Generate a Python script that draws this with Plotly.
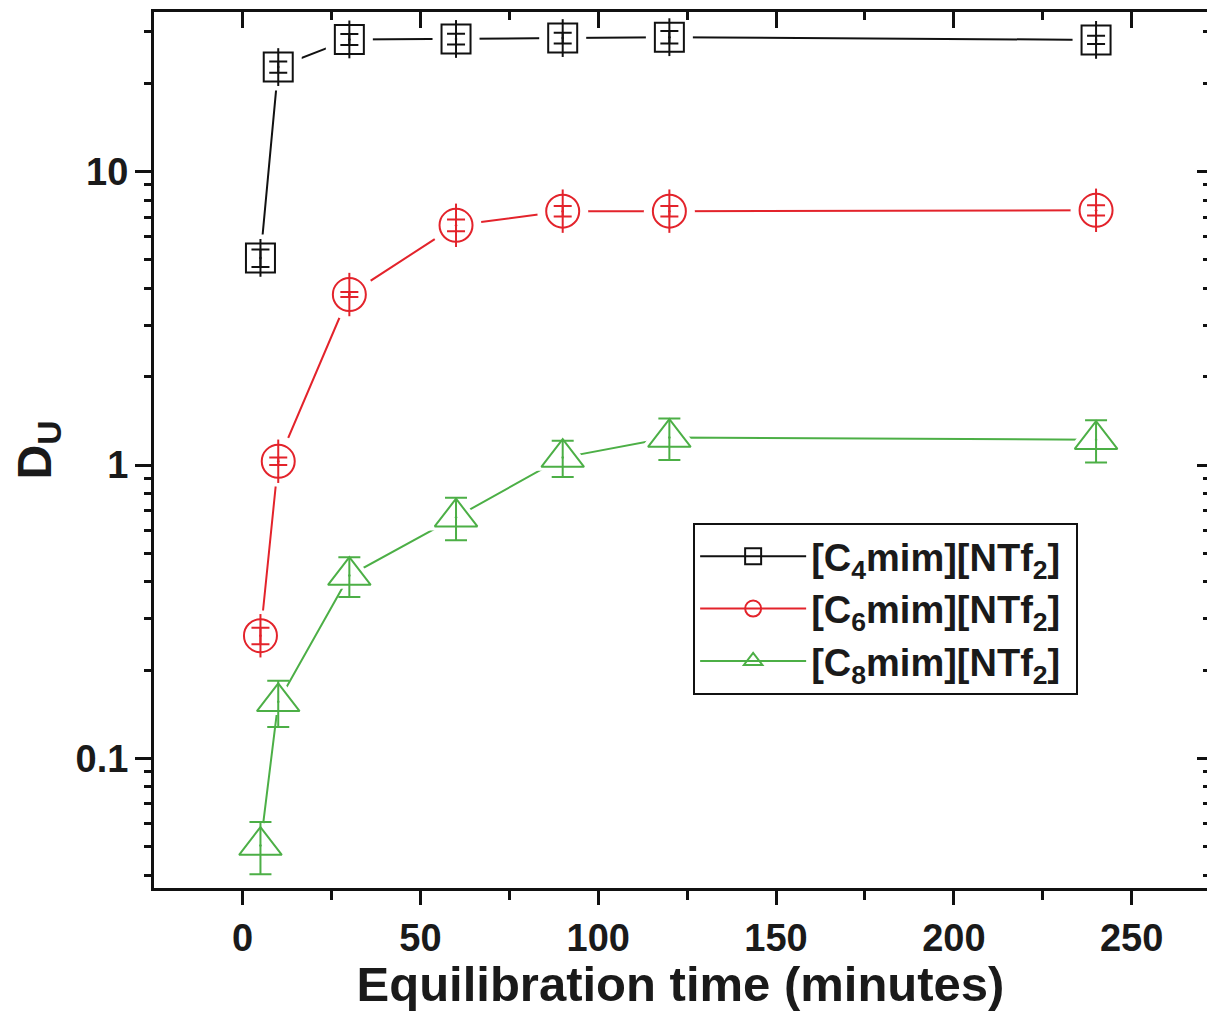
import plotly.graph_objects as go
import math

# ---- data ----
time_min = [5, 10, 30, 60, 90, 120, 240]

c4_D = [5.08, 22.7, 28.2, 28.3, 28.5, 28.7, 28.1]
c4_err = [0.35, 1.0, 1.2, 1.2, 1.2, 1.4, 0.9]

c6_D = [0.262, 1.03, 3.81, 6.56, 7.33, 7.33, 7.38]
c6_err = [0.017, 0.03, 0.075, 0.3, 0.3, 0.3, 0.3]

c8_D = [0.0505, 0.156, 0.42, 0.664, 1.06, 1.24, 1.22]
c8_err = [0.0102, 0.028, 0.065, 0.11, 0.15, 0.2, 0.2]

series_names = ["[C<sub>4</sub>mim][NTf<sub>2</sub>]\u00a0",
                "[C<sub>6</sub>mim][NTf<sub>2</sub>]\u00a0",
                "[C<sub>8</sub>mim][NTf<sub>2</sub>]\u00a0"]

# ---- styles ----
colors = ["#111111", "#e3232b", "#4caf46"]
symbols = ["square", "circle", "triangle-up"]
msizes = [29, 33, 37]
mask_extra = [18, 18, 16]
cap_w = [9, 9, 11]

FONT = "Liberation Sans, Arial, Helvetica, sans-serif"
TXT = "#1a1a1a"
AX = "#111111"

ys = [c4_D, c6_D, c8_D]
errs = [c4_err, c6_err, c8_err]

fig = go.Figure()

# connecting lines
for i in range(3):
    fig.add_trace(go.Scatter(x=time_min, y=ys[i], mode="lines",
                             line=dict(color=colors[i], width=2),
                             showlegend=False, hoverinfo="skip"))
# white masks giving the gap between line and symbol
for i in range(3):
    fig.add_trace(go.Scatter(x=time_min, y=ys[i], mode="markers",
                             marker=dict(symbol=symbols[i], size=msizes[i] + mask_extra[i],
                                         color="white", line=dict(width=0)),
                             showlegend=False, hoverinfo="skip"))
# open symbols with error bars
for i in range(3):
    fig.add_trace(go.Scatter(x=time_min, y=ys[i], mode="markers",
                             marker=dict(symbol=symbols[i] + "-open", size=msizes[i],
                                         color=colors[i], line=dict(width=2, color=colors[i])),
                             error_y=dict(type="data", array=errs[i], visible=True,
                                          color=colors[i], thickness=2, width=cap_w[i]),
                             showlegend=False, hoverinfo="skip"))
    if i < 2:
        fig.add_trace(go.Scatter(x=time_min, y=ys[i], mode="markers",
                                 marker=dict(symbol="line-ns-open", size=msizes[i] - 2,
                                             color=colors[i], line=dict(width=2, color=colors[i])),
                                 showlegend=False, hoverinfo="skip"))
    fig.add_trace(go.Scatter(x=time_min, y=ys[i], mode="markers",
                             marker=dict(symbol="circle", size=2.5, color=colors[i],
                                         line=dict(width=0)),
                             showlegend=False, hoverinfo="skip"))

# legend entries
for i in range(3):
    fig.add_trace(go.Scatter(x=[None], y=[None], mode="lines+markers", name=series_names[i],
                             line=dict(color=colors[i], width=2),
                             marker=dict(symbol=symbols[i] + "-open", size=16,
                                         color=colors[i], line=dict(width=2, color=colors[i]))))

# helper trace for the mirrored (top / right) axes
fig.add_trace(go.Scatter(x=[None], y=[None], xaxis="x2", yaxis="y2",
                         showlegend=False, hoverinfo="skip"))

xr = [-24.94, 271.2]
yr = [math.log10(0.0362), math.log10(34.97)]

fig.update_layout(
    width=1199, height=1003,
    margin=dict(l=146, r=0, t=4, b=123),
    paper_bgcolor="white", plot_bgcolor="white",
    font=dict(family=FONT, color=TXT),
    showlegend=True,
    legend=dict(x=0.512, y=0.4167, xanchor="left", yanchor="top",
                bordercolor=AX, borderwidth=2, bgcolor="white",
                font=dict(family=FONT, size=38, weight="bold", color=TXT),
                itemwidth=106, tracegroupgap=0),
    xaxis=dict(range=xr, showgrid=False, zeroline=False,
               showline=True, linewidth=3, linecolor=AX,
               ticks="outside", ticklen=14, tickwidth=3, tickcolor=AX,
               tick0=0, dtick=50,
               minor=dict(ticks="outside", ticklen=9, tickwidth=3, tickcolor=AX,
                          dtick=25, tick0=0, showgrid=False),
               tickfont=dict(family=FONT, size=38, weight="bold", color=TXT),
               title=dict(text="Equilibration time (minutes)", standoff=16,
                          font=dict(family=FONT, size=49, weight="bold", color=TXT))),
    yaxis=dict(type="log", range=yr, showgrid=False, zeroline=False,
               showline=True, linewidth=3, linecolor=AX,
               ticks="outside", ticklen=16, tickwidth=3, tickcolor=AX,
               dtick=1, ticklabelstandoff=-1,
               minor=dict(ticks="outside", ticklen=7, tickwidth=3, tickcolor=AX,
                          dtick="D1", showgrid=False),
               tickfont=dict(family=FONT, size=38, weight="bold", color=TXT),
               title=dict(text="D<sub>U</sub>", standoff=22,
                          font=dict(family=FONT, size=48, weight="bold", color=TXT))),
    xaxis2=dict(range=xr, overlaying="x", side="top", anchor="y2",
                showgrid=False, zeroline=False, showticklabels=False,
                showline=True, linewidth=3, linecolor=AX,
                ticks="inside", ticklen=16, tickwidth=3, tickcolor=AX,
                tick0=0, dtick=50,
                minor=dict(ticks="inside", ticklen=8, tickwidth=3, tickcolor=AX,
                           dtick=25, tick0=0, showgrid=False)),
    yaxis2=dict(type="log", range=yr, overlaying="y", side="right", anchor="x2",
                showgrid=False, zeroline=False, showticklabels=False, showline=False,
                ticks="inside", ticklen=10, tickwidth=3, tickcolor=AX,
                dtick=1,
                minor=dict(ticks="inside", ticklen=4, tickwidth=3, tickcolor=AX,
                           dtick="D1", showgrid=False)),
)

fig.write_html("out.html")
